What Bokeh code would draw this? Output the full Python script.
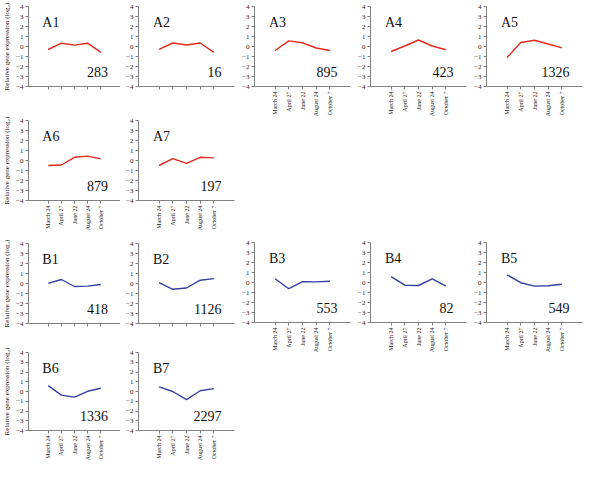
import math
from bokeh.plotting import figure
from bokeh.layouts import row, column, Spacer
from bokeh.models import Range1d, FactorRange, FixedTicker, Label
from bokeh.embed import file_html
from bokeh.resources import INLINE

months = ["March 24", "April 27", "June 22", "August 24", "October 7"]
yticks = [-4, -3, -2, -1, 0, 1, 2, 3, 4]

a1 = [-0.30, 0.33, 0.14, 0.33, -0.58]
a2 = [-0.28, 0.35, 0.15, 0.35, -0.58]
a3 = [-0.40, 0.56, 0.37, -0.15, -0.40]
a4 = [-0.50, 0.05, 0.65, 0.05, -0.32]
a5 = [-1.10, 0.40, 0.62, 0.25, -0.13]
a6 = [-0.50, -0.45, 0.32, 0.44, 0.16]
a7 = [-0.50, 0.19, -0.28, 0.32, 0.26]
b1 = [0.02, 0.40, -0.30, -0.26, -0.10]
b2 = [0.08, -0.58, -0.45, 0.33, 0.49]
b3 = [0.37, -0.62, 0.08, 0.06, 0.12]
b4 = [0.58, -0.27, -0.30, 0.36, -0.36]
b5 = [0.77, -0.02, -0.36, -0.32, -0.17]
b6 = [0.60, -0.37, -0.58, 0.02, 0.33]
b7 = [0.48, 0.00, -0.84, 0.08, 0.30]

counts = {"A1": 283, "A2": 16, "A3": 895, "A4": 423, "A5": 1326, "A6": 879, "A7": 197,
          "B1": 418, "B2": 1126, "B3": 553, "B4": 82, "B5": 549, "B6": 1336, "B7": 2297}

RED = "#e02a1e"
BLUE = "#3540a0"
SERIF = "Liberation Serif"
YLABEL = "Relative gene expression (log\u2082)"

FW, FH, TOP = 96, 80, 6


def panel(name, vals, color, col, labels, bottom):
    left = 24 if col == 0 else 18
    right = 0 if col == 0 else (4 if col == 4 else 2)
    p = figure(width=left + FW + right, height=TOP + FH + bottom,
               x_range=FactorRange(*months, range_padding=1, range_padding_units="absolute"),
               y_range=Range1d(-4, 4),
               output_backend="svg", toolbar_location=None,
               min_border_left=left, min_border_right=right,
               min_border_top=TOP, min_border_bottom=bottom)
    p.outline_line_color = None
    p.xgrid.visible = False
    p.ygrid.visible = False
    for ax in (p.xaxis[0], p.yaxis[0]):
        ax.axis_line_color = "#808080"
        ax.major_tick_line_color = "#808080"
        ax.major_tick_out = 3
        ax.major_tick_in = 0
        ax.minor_tick_line_color = None
        ax.major_label_text_font = SERIF
        ax.major_label_text_color = "#222222"
        ax.major_label_standoff = 2
    p.yaxis.ticker = FixedTicker(ticks=yticks)
    p.yaxis.major_label_text_font_size = "7px"
    p.xaxis.major_label_orientation = math.pi / 2
    if labels:
        p.xaxis.major_label_text_font_size = "6px"
    else:
        p.xaxis.major_label_text_font_size = "1px"
        p.xaxis.major_label_text_color = None
    if col == 0:
        p.yaxis.axis_label = YLABEL
        p.yaxis.axis_label_text_font = SERIF
        p.yaxis.axis_label_text_font_size = "7px"
        p.yaxis.axis_label_text_font_style = "normal"
        p.yaxis.axis_label_text_color = "#222222"
        p.yaxis.axis_label_standoff = 2
    p.line(months, vals, line_color=color, line_width=1.4)
    p.add_layout(Label(x=0.05, y=2.4, text=name, text_font=SERIF,
                       text_font_size="14px", text_color="#111111",
                       text_baseline="alphabetic"))
    p.add_layout(Label(x=5.05, y=-2.5, text=str(counts[name]), text_font=SERIF,
                       text_font_size="14px", text_color="#111111",
                       text_align="right", text_baseline="alphabetic"))
    return p


col1 = column(panel("A1", a1, RED, 0, False, 28),
              panel("A6", a6, RED, 0, True, 37),
              panel("B1", b1, BLUE, 0, False, 23),
              panel("B6", b6, BLUE, 0, True, 31))
col2 = column(panel("A2", a2, RED, 1, False, 28),
              panel("A7", a7, RED, 1, True, 37),
              panel("B2", b2, BLUE, 1, False, 23),
              panel("B7", b7, BLUE, 1, True, 31))


def right_col(na, va, nb, vb, c):
    w = 18 + FW + (4 if c == 4 else 2)
    return column(panel(na, va, RED, c, True, 34),
                  Spacer(width=w, height=116),
                  panel(nb, vb, BLUE, c, True, 34))


col3 = right_col("A3", a3, "B3", b3, 2)
col4 = right_col("A4", a4, "B4", b4, 3)
col5 = right_col("A5", a5, "B5", b5, 4)

layout = row(col1, col2, col3, col4, col5)

open("out.html", "w").write(file_html(layout, INLINE))
